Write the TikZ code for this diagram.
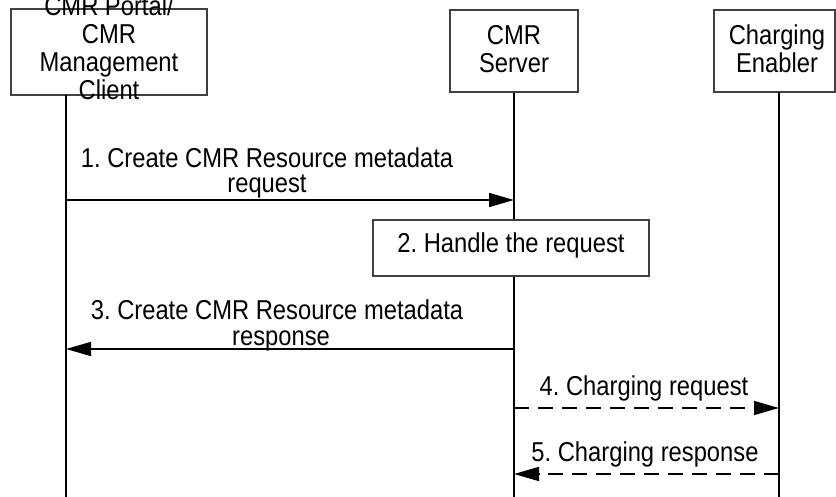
\documentclass[tikz,border=0pt]{standalone}
\usepackage{fontspec}
\setmainfont[FakeStretch=0.87]{Liberation Sans}
\usetikzlibrary{arrows.meta}
\frenchspacing
\begin{document}
\begin{tikzpicture}[x=1pt,y=-1pt,
  every node/.style={font=\fontsize{27.3}{28}\selectfont, inner sep=0pt},
  entity/.style={draw=black!75, line width=1.2pt, fill=white},
  lifeline/.style={line width=1.5pt},
  msg/.style={line width=1.5pt, -{Triangle[length=25pt,width=14pt]}},
  dmsg/.style={msg, dash pattern=on 15pt off 9pt},
  lbl/.style={align=center, anchor=base},
  mlbl/.style={lbl, font=\fontsize{27.3}{25.5}\selectfont}]
\useasboundingbox (0,0) rectangle (836,497);
% entities
\node[entity, minimum width=196pt, minimum height=86pt] (cl) at (109,52) {};
\node[entity, minimum width=128pt, minimum height=82pt] (sv) at (514,51) {};
\node[entity, minimum width=121pt, minimum height=82pt] (ce) at (774.5,51) {};
% lifelines
\coordinate (clt) at (66,95);
\coordinate (clb) at (66,497);
\coordinate (svb) at (514,497);
\coordinate (ceb) at (779,497);
\coordinate (cet) at (779,92);
\draw[lifeline] (clt) -- (clb);
\draw[lifeline] (sv.south) -- (svb);
\draw[lifeline] (cet) -- (ceb);
% entity texts
\node[lbl] (clt1) at (109,100) {CMR Portal/\\CMR\\Management\\Client};
\node[lbl] (svt) at (514,73) {CMR\\Server};
\node[lbl] (cet1) at (777,73) {Charging\\Enabler};
% handle box
\node[entity, minimum width=276pt, minimum height=56pt] (hb) at (511,248) {};
\node[lbl] (hbt) at (511,253) {2. Handle the request};
% messages
\coordinate (m1s) at (66,200); \coordinate (m1e) at (514,200);
\coordinate (m3s) at (514,349); \coordinate (m3e) at (66,349);
\coordinate (m4s) at (514,408); \coordinate (m4e) at (779,408);
\coordinate (m5s) at (779,474); \coordinate (m5e) at (514,474);
\draw[msg] (m1s) -- (m1e);
\draw[msg] (m3s) -- (m3e);
\draw[dmsg] (m4s) -- (m4e);
\draw[dmsg] (m5s) -- (m5e);
\node[mlbl] (l1) at (267,193) {1. Create CMR Resource metadata\\request};
\node[mlbl] (l3) at (277,345) {3. Create CMR Resource metadata\\\hspace*{8pt}response};
\node[lbl] (l4) at (644,395) {4. Charging request};
\node[lbl] (l5) at (645,461) {5. Charging response};
\end{tikzpicture}
\end{document}
